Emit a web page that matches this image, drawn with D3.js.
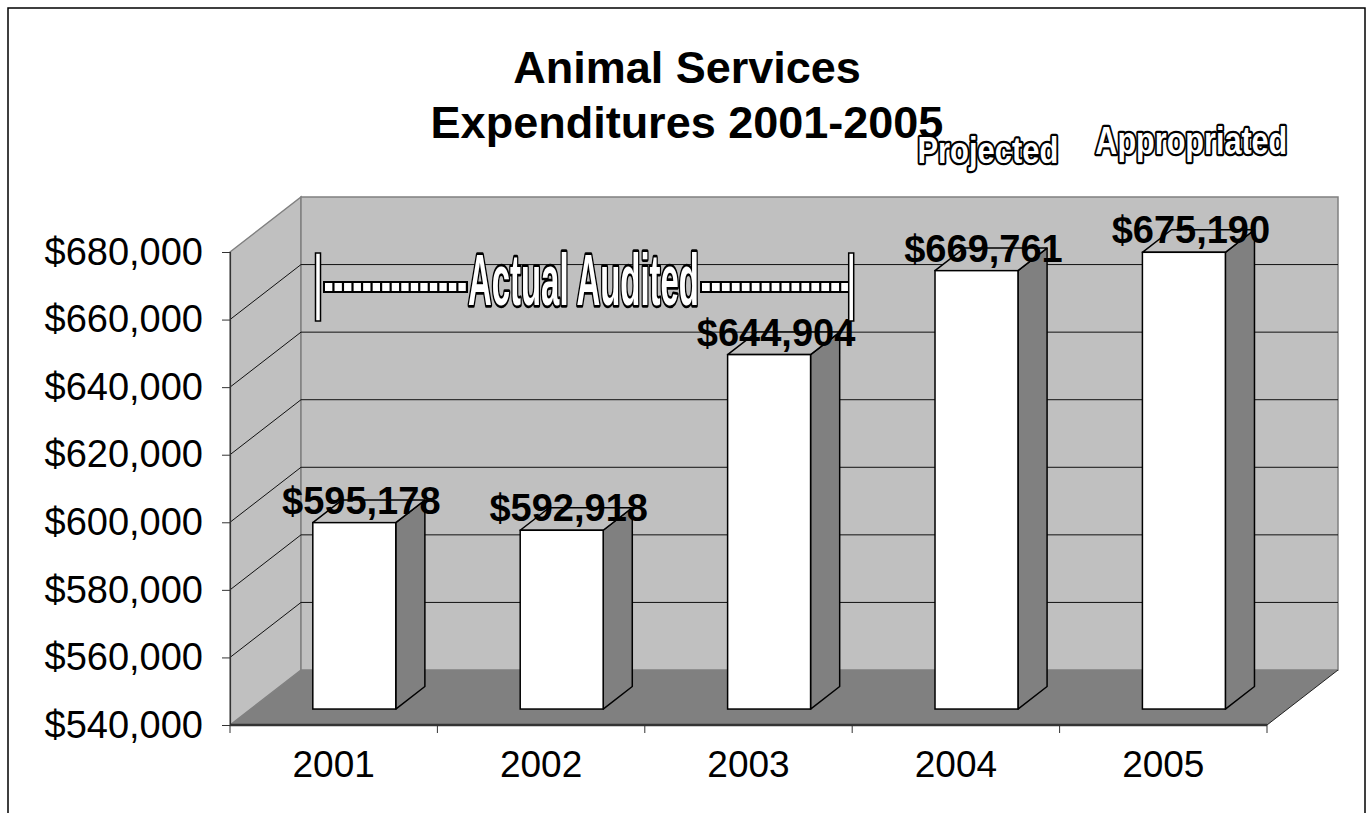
<!DOCTYPE html>
<html>
<head>
<meta charset="utf-8">
<script src="https://cdn.jsdelivr.net/npm/d3@7"></script>
<style>
  html, body { margin: 0; padding: 0; background: #fff; }
  svg { display: block; }
  text { font-family: "Liberation Sans", Arial, sans-serif; }
</style>
</head>
<body>
<svg id="chart" width="1372" height="813"></svg>
<script>
// Chart data
const years = ["2001", "2002", "2003", "2004", "2005"];
const expenditures = [595178, 592918, 644904, 669761, 675190];
const yTickValues = [540000, 560000, 580000, 600000, 620000, 640000, 660000, 680000];
const titleLines = ["Animal Services", "Expenditures 2001-2005"];
const bracketLabel = "Actual Audited";
const bracketYears = ["2001", "2003"];
const noteYears = ["2004", "2005"];
const noteLabels = ["Projected", "Appropriated"];

const svg = d3.select("#chart");
const W = 1372, H = 813;

// Front plane of the 3D plot box and its depth offset
const plotLeft = 230, plotRight = 1267, plotBottom = 725, plotTop = 252;
const DX = 71, DY = -55;

const x = d3.scaleBand().domain(years).range([plotLeft, plotRight]).paddingInner(0).paddingOuter(0);
const y = d3.scaleLinear().domain([540000, 680000]).range([plotBottom, plotTop]);
const fmt = v => "$" + d3.format(",")(v);

// Outer frame
svg.append("rect").attr("x", 8).attr("y", 8).attr("width", 1357).attr("height", H + 20)
  .attr("fill", "#fff").attr("stroke", "#000").attr("stroke-width", 1.5);

// Title
svg.append("g").selectAll("text").data(titleLines).join("text")
  .attr("x", 687).attr("y", (d, i) => 83 + i * 55)
  .attr("text-anchor", "middle").attr("font-weight", "bold").attr("font-size", 45)
  .text(d => d);

const g = svg.append("g");
const poly = pts => pts.map(p => p.join(",")).join(" ");
const yMax = y(680000), yMin = y(540000);

// Left side wall
g.append("polygon")
  .attr("points", poly([[plotLeft, yMax], [plotLeft + DX, yMax + DY], [plotLeft + DX, yMin + DY], [plotLeft, yMin]]))
  .attr("fill", "#c0c0c0").attr("stroke", "#808080").attr("stroke-width", 1.5);

// Back wall
g.append("polygon")
  .attr("points", poly([[plotLeft + DX, yMax + DY], [plotRight + DX, yMax + DY], [plotRight + DX, yMin + DY], [plotLeft + DX, yMin + DY]]))
  .attr("fill", "#c0c0c0").attr("stroke", "#808080").attr("stroke-width", 1.5);

// Floor
g.append("polygon")
  .attr("points", poly([[plotLeft, yMin], [plotRight, yMin], [plotRight + DX, yMin + DY], [plotLeft + DX, yMin + DY]]))
  .attr("fill", "#808080").attr("stroke", "none");
g.append("line").attr("x1", plotRight).attr("y1", yMin).attr("x2", plotRight + DX).attr("y2", yMin + DY)
  .attr("stroke", "#222").attr("stroke-width", 1);

// Gridlines: along the back wall and across the side wall
const gridVals = yTickValues.filter(v => v > 540000 && v < 680000);
g.append("g").selectAll("line").data(gridVals).join("line")
  .attr("x1", plotLeft + DX).attr("x2", plotRight + DX)
  .attr("y1", d => y(d) + DY).attr("y2", d => y(d) + DY)
  .attr("stroke", "#111").attr("stroke-width", 1);
g.append("g").selectAll("line").data(gridVals).join("line")
  .attr("x1", plotLeft).attr("x2", plotLeft + DX)
  .attr("y1", d => y(d)).attr("y2", d => y(d) + DY)
  .attr("stroke", "#111").attr("stroke-width", 1);

// Y axis
const yAxis = d3.axisLeft(y).tickValues(yTickValues).tickFormat(fmt).tickSize(8).tickPadding(19);
const ya = svg.append("g").attr("transform", `translate(${plotLeft},0)`).call(yAxis);
ya.select(".domain").attr("stroke", "#333").attr("stroke-width", 1.2);
ya.selectAll(".tick line").attr("stroke", "#333");
ya.selectAll(".tick text").attr("font-size", 38).attr("fill", "#000")
  .attr("font-family", "'Liberation Sans', Arial, sans-serif");

// X axis with ticks on category boundaries
const xa = svg.append("g").attr("transform", `translate(0,${yMin})`);
xa.append("line").attr("x1", plotLeft).attr("x2", plotRight).attr("y1", 0).attr("y2", 0)
  .attr("stroke", "#333").attr("stroke-width", 2.5);
const boundaries = years.map(d => x(d)).concat([plotRight]);
xa.selectAll("line.tk").data(boundaries).join("line").attr("class", "tk")
  .attr("x1", d => d).attr("x2", d => d).attr("y1", 0).attr("y2", 8)
  .attr("stroke", "#333").attr("stroke-width", 1);
xa.selectAll("text").data(years).join("text")
  .attr("x", d => x(d) + x.bandwidth() / 2).attr("y", 52)
  .attr("text-anchor", "middle").attr("font-size", 37).text(d => d);

// 3D columns
const barFrac = 0.4;
const f1 = 0.29, f2 = 0.70;
const bw = x.bandwidth() * barFrac;
const fx = DX * f1, fy = DY * f1;
const sx = DX * (f2 - f1), sy = DY * (f2 - f1);
const bars = years.map((yr, i) => {
  const cx = x(yr) + x.bandwidth() / 2;
  const xl = cx - bw / 2 + fx, xr = xl + bw;
  const yt = y(expenditures[i]) + fy, yb = y(540000) + fy;
  return { yr, v: expenditures[i], xl, xr, yt, yb };
});
const bg = svg.append("g");
bars.forEach(b => {
  bg.append("polygon")
    .attr("points", poly([[b.xr, b.yt], [b.xr + sx, b.yt + sy], [b.xr + sx, b.yb + sy], [b.xr, b.yb]]))
    .attr("fill", "#808080").attr("stroke", "#000").attr("stroke-width", 1.5).attr("stroke-linejoin", "round");
  bg.append("polygon")
    .attr("points", poly([[b.xl, b.yt], [b.xr, b.yt], [b.xr + sx, b.yt + sy], [b.xl + sx, b.yt + sy]]))
    .attr("fill", "#c0c0c0").attr("stroke", "#000").attr("stroke-width", 1.5).attr("stroke-linejoin", "round");
  bg.append("rect")
    .attr("x", b.xl).attr("y", b.yt).attr("width", bw).attr("height", b.yb - b.yt)
    .attr("fill", "#fff").attr("stroke", "#000").attr("stroke-width", 1.5);
});

// Value labels
svg.append("g").selectAll("text").data(bars).join("text")
  .attr("x", d => (d.xl + d.xr) / 2 + 7).attr("y", d => d.yt - 9)
  .attr("text-anchor", "middle").attr("font-weight", "bold").attr("font-size", 38)
  .text(d => fmt(d.v));

// Outlined, horizontally condensed WordArt-style text
function outlined(sel, txt, cx, base, size, len, sw) {
  const t = sel.append("text")
    .attr("font-size", size).attr("font-weight", "bold")
    .attr("fill", "#fff").attr("stroke", "#000").attr("stroke-width", sw)
    .attr("paint-order", "stroke").attr("stroke-linejoin", "round")
    .text(txt);
  const w = t.node().getComputedTextLength();
  const k = len / w;
  t.attr("transform", `translate(${cx - len / 2},${base}) scale(${k},1)`);
}
const notes = svg.append("g");
const noteOffsets = [[32, 163, 37, 141], [28, 154, 38, 192]];
noteYears.forEach((yr, i) => {
  const [ox, base, size, len] = noteOffsets[i];
  outlined(notes, noteLabels[i], x(yr) + x.bandwidth() / 2 + ox, base, size, len, 4.5);
});

// "Actual Audited" bracket spanning the audited years
const bx0 = x(bracketYears[0]) + 88, bx1 = x(bracketYears[1]) + x.bandwidth();
const bTop = 253, bBot = 321, bandTop = 281, bandH = 12;
const br = svg.append("g");
const textL = 468, textR = 699;
// dashed band: black strip with white squares
[[bx0 + 5, textL], [textR + 1, bx1 - 1]].forEach(([a, b]) => {
  br.append("rect").attr("x", a).attr("y", bandTop).attr("width", b - a).attr("height", bandH)
    .attr("fill", "#000");
  const n = Math.floor((b - a - 2) / 9.5);
  const step = (b - a - 2) / n;
  br.append("g").selectAll("rect").data(d3.range(n)).join("rect")
    .attr("x", k => a + 2 + k * step).attr("y", bandTop + 2)
    .attr("width", step - 2.2).attr("height", bandH - 4)
    .attr("fill", "#fff");
});
[bx0, bx1 - 1].forEach(bx => {
  br.append("rect").attr("x", bx - 2.5).attr("y", bTop).attr("width", 5).attr("height", bBot - bTop)
    .attr("fill", "#fff").attr("stroke", "#000").attr("stroke-width", 1.5);
});
outlined(br, bracketLabel, (textL + textR) / 2, 305, 72, textR - textL, 5.5);
</script>
</body>
</html>
